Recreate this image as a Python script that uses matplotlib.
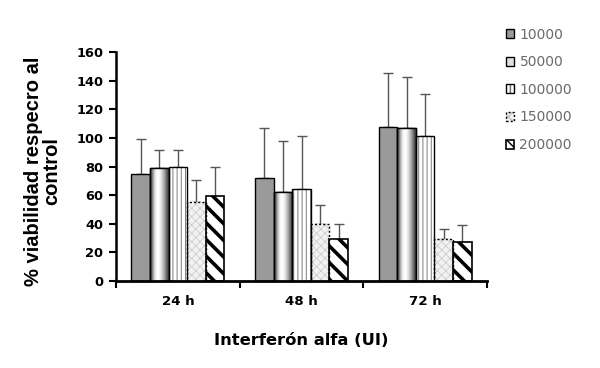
import numpy as np
import matplotlib
matplotlib.use("Agg")
import matplotlib.pyplot as plt
from matplotlib.ticker import FixedLocator

plt.rcParams['font.family'] = ['DejaVu Sans']

categories = ["24 h", "48 h", "72 h"]
series = ["10000", "50000", "100000", "150000", "200000"]
values = {
    "10000":  [74.8, 72.0, 107.8],
    "50000":  [78.7, 62.2, 106.9],
    "100000": [79.9, 64.5, 101.1],
    "150000": [55.4, 39.8, 29.6],
    "200000": [59.6, 29.1, 27.0],
}
err_tops = {
    "10000":  [99.4, 107.1, 145.1],
    "50000":  [91.5, 97.6, 142.6],
    "100000": [91.5, 101.1, 130.5],
    "150000": [70.4, 53.3, 36.3],
    "200000": [79.9, 39.8, 39.3],
}
y_ticks = [0, 20, 40, 60, 80, 100, 120, 140, 160]

fig = plt.figure(figsize=(6.0, 3.68), dpi=100)
ax = fig.add_axes([116/600, 1-281/368, (487-116)/600, (281-52)/368])

x = np.arange(len(categories))
w = 0.15
handles = []
for i, s in enumerate(series):
    pos = x + (i - 2) * w
    vals = np.array(values[s])
    if s == "10000":
        b = ax.bar(pos, vals, w, color="#9a9a9a", edgecolor="black", linewidth=1.0, zorder=2)
        h = b
    elif s == "50000":
        b = ax.bar(pos, vals, w, color="#e0e0e0", edgecolor="black", linewidth=1.0, zorder=2)
        g = np.array([0.25, 0.45, 0.7, 0.88, 0.97, 1.0, 0.97, 0.9, 0.8, 0.68, 0.55, 0.4, 0.25])
        img = np.tile(g, (2, 1))
        for r in b:
            xx, yy = r.get_x(), r.get_y()
            im = ax.imshow(img, cmap="gray", vmin=0, vmax=1, aspect="auto",
                           extent=[xx, xx + r.get_width(), yy, yy + r.get_height()],
                           interpolation="bilinear", zorder=2.1)
            im.set_clip_path(r)
        b2 = ax.bar(pos, vals, w, fill=False, edgecolor="black", linewidth=1.0, zorder=2.2)
        h = b
    elif s == "100000":
        with plt.rc_context({'hatch.linewidth': 0.6}):
            b = ax.bar(pos, vals, w, color="white", edgecolor="#666666", hatch="||||", linewidth=0, zorder=2)
        b2 = ax.bar(pos, vals, w, fill=False, edgecolor="black", linewidth=1.0, zorder=2.2)
        h = (b, b2)
    elif s == "150000":
        with plt.rc_context({'hatch.linewidth': 0.5}):
            b = ax.bar(pos, vals, w, color="#f2f2f2", edgecolor="#c8c8c8", hatch="xxxx", linewidth=0, zorder=2)
        b2 = ax.bar(pos, vals, w, fill=False, edgecolor="black", linewidth=1.0, linestyle=(0, (1.5, 1.5)), zorder=2.2)
        h = (b, b2)
    else:
        with plt.rc_context({'hatch.linewidth': 2.6}):
            b = ax.bar(pos, vals, w, color="white", edgecolor="black", hatch="\\\\", linewidth=0, zorder=2)
        b2 = ax.bar(pos, vals, w, fill=False, edgecolor="black", linewidth=1.2, zorder=2.2)
        h = (b, b2)
    handles.append(h)
    up = np.array(err_tops[s]) - vals
    ax.errorbar(pos, vals, yerr=[np.zeros_like(up), up], fmt="none", ecolor="#555555",
                elinewidth=1.0, capsize=3.5, capthick=1.0, zorder=1.5)

ax.set_xlim(-0.5, 2.5)
ax.set_ylim(0, 160)
ax.set_yticks(y_ticks)
ax.set_xticks(x)
ax.set_xticklabels(categories)
ax.xaxis.set_minor_locator(FixedLocator([-0.5, 0.5, 1.5, 2.5]))
ax.tick_params(axis="x", which="major", length=0, pad=10)
ax.tick_params(axis="x", which="minor", length=5, width=1.5, direction="out")
ax.tick_params(axis="y", length=5, width=1.5, direction="out", pad=4)
for lab in ax.get_xticklabels():
    lab.set_fontweight("bold")
    lab.set_fontsize(9.6)
for lab in ax.get_yticklabels():
    lab.set_fontweight("bold")
    lab.set_fontsize(9.4)
ax.spines["top"].set_visible(False)
ax.spines["right"].set_visible(False)
ax.spines["left"].set_linewidth(1.8)
ax.spines["bottom"].set_linewidth(2.0)

ax.set_ylabel("% viabilidad respecro al\ncontrol", fontsize=14.5, fontweight="bold",
              family=["Liberation Sans", "DejaVu Sans"], linespacing=0.95)
ax.yaxis.set_label_coords(-0.148, 0.48)
ax.set_xlabel("Interferón alfa (UI)", fontsize=11.8, fontweight="bold", labelpad=18)

leg = fig.legend(handles, series, loc="upper left", bbox_to_anchor=(500/600, 1-22/368),
                 frameon=False, fontsize=10, labelspacing=0.98, handlelength=0.6,
                 handleheight=0.6, handletextpad=0.4, borderaxespad=0)
for t in leg.get_texts():
    t.set_color("#6a6a6a")

fig.savefig("out.png", dpi=100)
